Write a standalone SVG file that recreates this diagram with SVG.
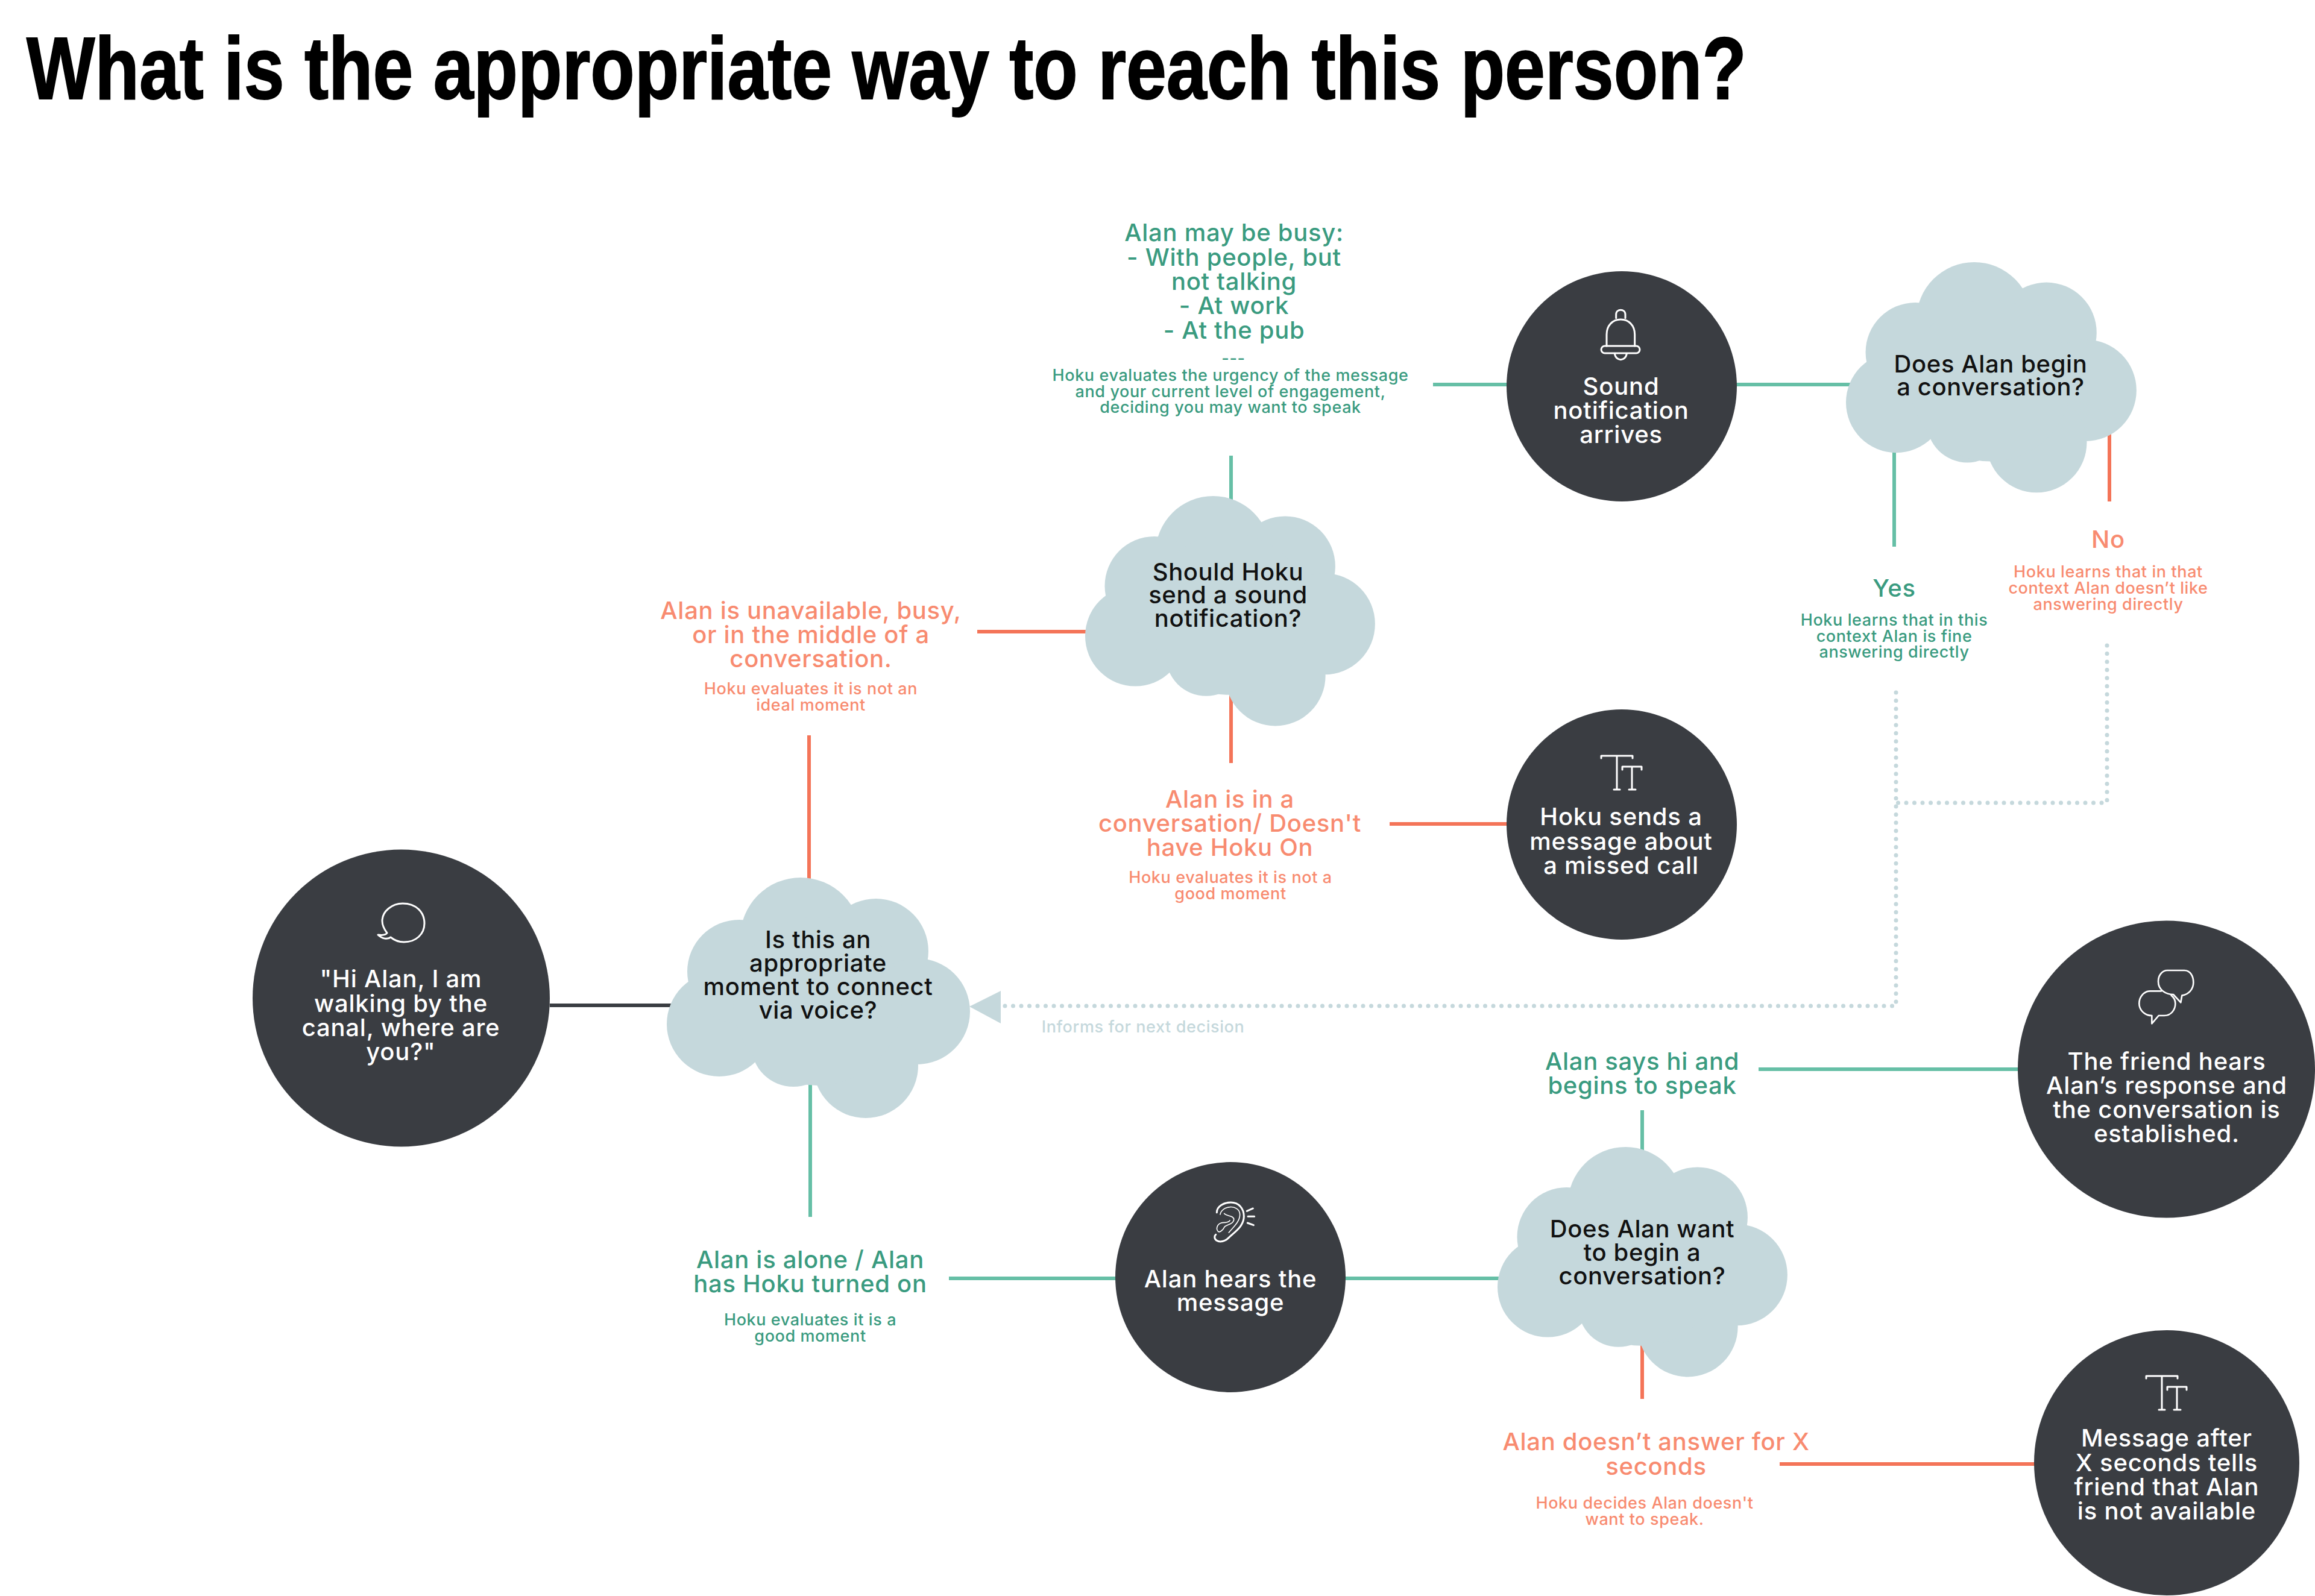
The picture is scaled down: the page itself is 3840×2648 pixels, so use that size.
<svg xmlns="http://www.w3.org/2000/svg" xmlns:xlink="http://www.w3.org/1999/xlink" width="3840" height="2648" viewBox="0 0 3840 2648">
<style>
text{font-family:"Inter","Noto Sans","Liberation Sans",sans-serif;text-anchor:middle}
.title{font-family:"Liberation Sans",sans-serif;font-weight:700;font-size:146px;text-anchor:start;fill:#000;stroke:#000;stroke-width:2}
.w{font-size:40px;fill:#fff;font-weight:500;letter-spacing:.8px}
.k{font-size:40px;fill:#111;font-weight:500;letter-spacing:.6px}
.gl{font-size:40px;fill:#3a9b80;font-weight:500;letter-spacing:.7px}
.rl{font-size:40px;fill:#f88b70;font-weight:500;letter-spacing:.7px}
.gs{font-size:27px;fill:#3a9b80;font-weight:500;letter-spacing:.6px}
.rs{font-size:27px;fill:#f88b70;font-weight:500;letter-spacing:.6px}
.inf{font-size:27px;fill:#c5d8dc;font-weight:500;letter-spacing:.6px}
.disc{fill:#3a3d42}
.cl{fill:#c5d8dc}
.g{stroke:#66bfa6;stroke-width:6;fill:none}
.r{stroke:#f47458;stroke-width:6;fill:none}
.b{stroke:#3a3d42;stroke-width:6;fill:none}
.d{stroke:#c5d8dc;stroke-width:7;fill:none;stroke-linecap:round;stroke-dasharray:0 13.5}
.ic{fill:none;stroke:#fff;stroke-width:3;stroke-linecap:round;stroke-linejoin:round}
</style>
<defs>
<g id="cloud" class="cl">
<circle cx="222" cy="100" r="100"/><circle cx="347" cy="122" r="87"/><circle cx="415" cy="222" r="88"/><circle cx="330" cy="312" r="87"/><circle cx="210" cy="277" r="70"/><circle cx="87" cy="243" r="87"/><circle cx="120" cy="156" r="86"/><circle cx="250" cy="205" r="140"/>
</g>
<g id="tt" class="ic">
<path d="M2656 1258V1254H2708V1258M2682 1254V1310M2677 1310H2687M2691 1277V1272H2723V1277M2707 1272V1310M2702 1310H2713"/>
</g>
</defs>
<rect width="3840" height="2648" fill="#fff"/>
<text id="title" class="title" x="44" y="164" textLength="2853" lengthAdjust="spacingAndGlyphs">What is the appropriate way to reach this person?</text>
<g id="connectors">
<path class="b" d="M912 1668H1115"/>
<path class="r" d="M1342 1220V1470"/>
<path class="g" d="M1344 1790V2019"/>
<path class="g" d="M1574 2121H1855"/>
<path class="g" d="M2226 2121H2495"/>
<path class="g" d="M2724 1842V1915"/>
<path class="g" d="M2917 1774H3355"/>
<path class="r" d="M2724 2230V2321"/>
<path class="r" d="M2952 2429H3380"/>
<path class="g" d="M2042 756V835"/>
<path class="r" d="M2042 1150V1266"/>
<path class="r" d="M1621 1048H1810"/>
<path class="r" d="M2305 1367H2505"/>
<path class="g" d="M2377 638H2505"/>
<path class="g" d="M2876 638H3075"/>
<path class="g" d="M3142 740V907"/>
<path class="r" d="M3499 715V832"/>
<path class="d" d="M3145 1149V1669H1666"/>
<path class="d" d="M3495 1071V1332H3145"/>
<path d="M1608 1670L1660 1644V1698Z" fill="#c5d8dc"/>
</g>
<g id="node-hi">
<circle class="disc" cx="665.5" cy="1656" r="246.5"/>
<path class="ic" d="M668 1499C690 1499 704 1513 704 1532C704 1550 690 1563 670 1563C660 1563 654 1560 648 1555C643 1559 634 1558 627 1551C634 1552 640 1551 642 1548C636 1540 634 1535 634 1528C634 1512 650 1499 668 1499Z"/>
<text class="w" x="665" y="1638">"Hi Alan, I am</text><text class="w" x="665" y="1679">walking by the</text><text class="w" x="665" y="1719">canal, where are</text><text class="w" x="665" y="1759">you?"</text>
</g>
<g id="node-moment">
<use xlink:href="#cloud" href="#cloud" transform="translate(1106 1456)"/>
<text class="k" x="1357" y="1573">Is this an</text><text class="k" x="1357" y="1612">appropriate</text><text class="k" x="1357" y="1651">moment to connect</text><text class="k" x="1357" y="1690">via voice?</text>
</g>
<g id="node-should">
<use xlink:href="#cloud" href="#cloud" transform="translate(1800 823) scale(.956)"/>
<text class="k" x="2037" y="963">Should Hoku</text><text class="k" x="2037" y="1001">send a sound</text><text class="k" x="2037" y="1040">notification?</text>
</g>
<g id="node-begin">
<use xlink:href="#cloud" href="#cloud" transform="translate(3062 435) scale(.958)"/>
<text class="k" x="3302" y="618">Does Alan begin</text><text class="k" x="3302" y="656">a conversation?</text>
</g>
<g id="node-want">
<use xlink:href="#cloud" href="#cloud" transform="translate(2484 1903) scale(.956)"/>
<text class="k" x="2724" y="2053">Does Alan want</text><text class="k" x="2724" y="2092">to begin a</text><text class="k" x="2724" y="2131">conversation?</text>
</g>
<g id="node-sound">
<circle class="disc" cx="2690" cy="641" r="191"/>
<g class="ic" transform="translate(2640 505) scale(.3333)" style="stroke-width:9"><rect x="48" y="207" width="192" height="36" rx="18"/><path d="M75 207V150C75 105 105 75 145 75C185 75 215 105 215 150V207M122 68V50C122 20 168 20 168 50V68M115 245C120 285 170 285 175 245"/></g>
<text class="w" x="2689" y="655">Sound</text><text class="w" x="2689" y="695">notification</text><text class="w" x="2689" y="735">arrives</text>
</g>
<g id="node-missed">
<circle class="disc" cx="2690" cy="1368" r="191"/>
<use xlink:href="#tt" href="#tt"/>
<text class="w" x="2689" y="1369">Hoku sends a</text><text class="w" x="2689" y="1410">message about</text><text class="w" x="2689" y="1450">a missed call</text>
</g>
<g id="node-hears">
<circle class="disc" cx="2041" cy="2119" r="191"/>
<g class="ic" transform="translate(2000 1980) scale(.3333)" style="stroke-width:9"><path d="M55 95C55 65 90 45 125 45C165 45 190 75 190 115C190 165 140 195 115 220C95 240 70 245 55 235C42 228 42 212 50 205M205 88L235 75M210 115H242M208 147L238 158"/><path style="stroke-width:5" d="M115 195C140 165 170 140 170 105C170 80 145 65 120 68C95 70 75 85 72 105M92 100C105 115 140 110 140 130C140 150 110 155 95 165C85 185 70 195 62 190C50 180 55 155 75 148C90 142 110 150 120 135"/></g>
<text class="w" x="2041" y="2136">Alan hears the</text><text class="w" x="2041" y="2175">message</text>
</g>
<g id="node-friend">
<circle class="disc" cx="3593.5" cy="1774" r="246.5"/>
<g class="ic" transform="translate(3530 1595) scale(.3333)" style="stroke-width:8"><path d="M195 45H280C310 45 325 75 325 105C325 140 300 165 268 170L262 205L225 165C190 165 150 145 150 100C150 70 170 45 195 45Z"/><path d="M165 148H110C80 148 55 175 55 210C55 245 85 270 118 270L118 310L152 270H180C215 270 235 240 235 210C235 195 228 180 215 170"/></g>
<text class="w" x="3594" y="1775">The friend hears</text><text class="w" x="3594" y="1815">Alan’s response and</text><text class="w" x="3594" y="1855">the conversation is</text><text class="w" x="3594" y="1895">established.</text>
</g>
<g id="node-after">
<circle class="disc" cx="3594" cy="2427" r="220"/>
<use xlink:href="#tt" href="#tt" transform="translate(904 1029)"/>
<text class="w" x="3594" y="2400">Message after</text><text class="w" x="3594" y="2441">X seconds tells</text><text class="w" x="3594" y="2481">friend that Alan</text><text class="w" x="3594" y="2521">is not available</text>
</g>
<g id="label-busy">
<text class="gl" x="2047" y="400">Alan may be busy:</text><text class="gl" x="2047" y="441">- With people, but</text><text class="gl" x="2047" y="481">not talking</text><text class="gl" x="2047" y="521">- At work</text><text class="gl" x="2047" y="562">- At the pub</text>
<text class="gs" x="2046" y="604">---</text>
<text class="gs" x="2041" y="632">Hoku evaluates the urgency of the message</text><text class="gs" x="2041" y="659">and your current level of engagement,</text><text class="gs" x="2041" y="685">deciding you may want to speak</text>
</g>
<g id="label-yes">
<text class="gl" x="3142" y="990">Yes</text>
<text class="gs" x="3142" y="1038">Hoku learns that in this</text><text class="gs" x="3142" y="1065">context Alan is fine</text><text class="gs" x="3142" y="1091">answering directly</text>
</g>
<g id="label-no">
<text class="rl" x="3497" y="909">No</text>
<text class="rs" x="3497" y="958">Hoku learns that in that</text><text class="rs" x="3497" y="985">context Alan doesn’t like</text><text class="rs" x="3497" y="1012">answering directly</text>
</g>
<g id="label-unavailable">
<text class="rl" x="1345" y="1027">Alan is unavailable, busy,</text><text class="rl" x="1345" y="1067">or in the middle of a</text><text class="rl" x="1345" y="1107">conversation.</text>
<text class="rs" x="1345" y="1152">Hoku evaluates it is not an</text><text class="rs" x="1345" y="1179">ideal moment</text>
</g>
<g id="label-inconv">
<text class="rl" x="2040" y="1340">Alan is in a</text><text class="rl" x="2040" y="1380">conversation/ Doesn't</text><text class="rl" x="2040" y="1420">have Hoku On</text>
<text class="rs" x="2041" y="1465">Hoku evaluates it is not a</text><text class="rs" x="2041" y="1492">good moment</text>
</g>
<g id="label-alone">
<text class="gl" x="1344" y="2104">Alan is alone / Alan</text><text class="gl" x="1344" y="2144">has Hoku turned on</text>
<text class="gs" x="1344" y="2199">Hoku evaluates it is a</text><text class="gs" x="1344" y="2226">good moment</text>
</g>
<g id="label-says">
<text class="gl" x="2724" y="1775">Alan says hi and</text><text class="gl" x="2724" y="1815">begins to speak</text>
</g>
<g id="label-noanswer">
<text class="rl" x="2747" y="2406">Alan doesn’t answer for X</text><text class="rl" x="2747" y="2447">seconds</text>
<text class="rs" x="2728" y="2503">Hoku decides Alan doesn't</text><text class="rs" x="2728" y="2530">want to speak.</text>
</g>
<text id="label-informs" class="inf" x="1896" y="1713">Informs for next decision</text>
</svg>
